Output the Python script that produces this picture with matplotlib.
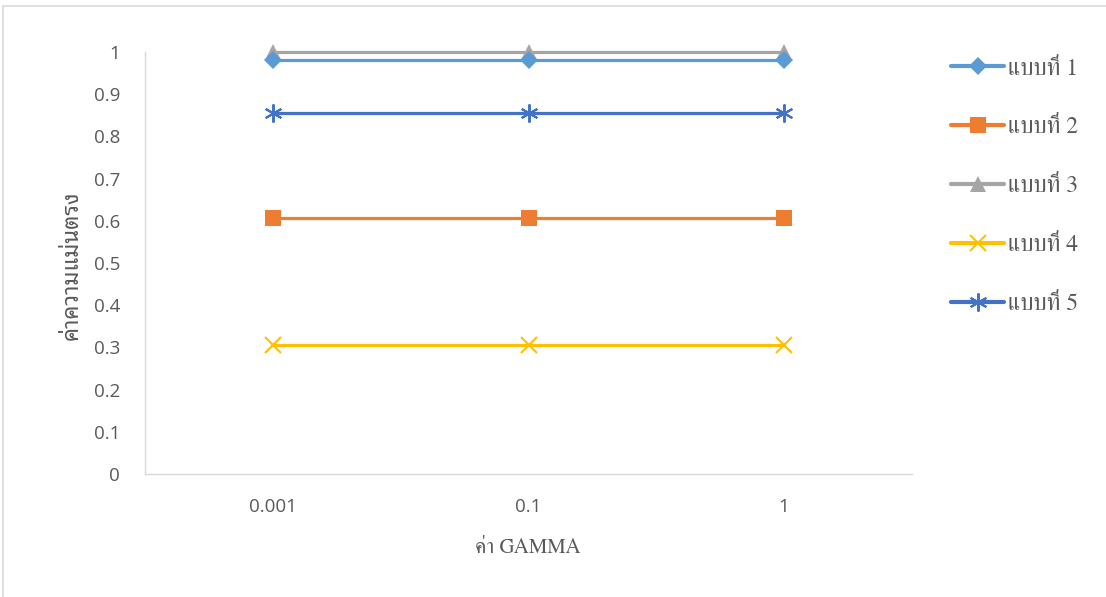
import matplotlib
matplotlib.use("Agg")
import matplotlib.pyplot as plt
from matplotlib.patches import Rectangle

categories = ["0.001", "0.1", "1"]
series_names = ["แบบที่ 1", "แบบที่ 2", "แบบที่ 3", "แบบที่ 4", "แบบที่ 5"]
s1 = [0.98, 0.98, 0.98]
s2 = [0.607, 0.607, 0.607]
s3 = [1.0, 1.0, 1.0]
s4 = [0.305, 0.305, 0.305]
s5 = [0.856, 0.856, 0.856]
yticks = [0, 0.1, 0.2, 0.3, 0.4, 0.5, 0.6, 0.7, 0.8, 0.9, 1]
ylabel = "ค่าความแม่นตรง"
xlabel = "ค่า GAMMA"

serif_thai = ["FreeSerif", "DejaVu Serif"]
sans_thai = ["Noto Sans Thai Looped", "Loma", "DejaVu Sans"]

fig = plt.figure(figsize=(11.06, 5.97), dpi=100)
W, H = 1106, 597
ax = fig.add_axes([145 / W, 1 - 474 / H, (912 - 145) / W, (474 - 52) / H])

x = list(range(len(categories)))
data = [s1, s2, s3, s4, s5]
colors = ["#5B9BD5", "#ED7D31", "#A5A5A5", "#FFC000", "#4472C4"]
markers = ["D", "s", "^", "x", (6, 2, 0)]
msizes = [8.8, 11.5, 12, 12, 13]
zorders = [4, 6, 3, 7, 5]
for i in range(5):
    kw = dict(color=colors[i], lw=2.3, marker=markers[i], markersize=msizes[i],
              label=series_names[i], solid_capstyle="round", clip_on=False)
    if i in (3, 4):
        kw.update(markeredgewidth=1.5)
    else:
        kw.update(markeredgewidth=0)
    ax.plot(x, data[i], zorder=zorders[i], **kw)

ax.set_xlim(-0.5, 2.5)
ax.set_ylim(0, 1)
ax.set_xticks(x)
ax.set_xticklabels(categories)
ax.set_yticks(yticks)
ax.set_yticklabels([f"{v:g}" for v in yticks])
for sp in ["top", "right"]:
    ax.spines[sp].set_visible(False)
for sp in ["left", "bottom"]:
    ax.spines[sp].set_color("#D9D9D9")
    ax.spines[sp].set_linewidth(1.0)
ax.tick_params(length=0, colors="#595959", labelsize=13.5)
ax.tick_params(axis="x", pad=17)
ax.tick_params(axis="y", pad=18)
for t in ax.get_xticklabels() + ax.get_yticklabels():
    t.set_fontfamily("Open Sans")

fig.text(528 / W, 1 - 548 / H, xlabel, ha="center", va="center", fontsize=15,
         color="#595959", family=serif_thai)
fig.text(72 / W, 1 - 265 / H, ylabel, ha="center", va="center", fontsize=16,
         color="#595959", rotation=90, family=sans_thai)

leg = ax.legend(loc="upper left", bbox_to_anchor=(951 / W, 1 - 58 / H),
                bbox_transform=fig.transFigure, frameon=False,
                prop=dict(family=serif_thai, size=17), labelcolor="#595959",
                handlelength=2.25, labelspacing=1.58, handletextpad=0.18,
                borderpad=0, borderaxespad=0)
for h in leg.get_lines():
    h.set_linewidth(3.0)

fig.patches.append(Rectangle((3 / W, -0.01), 1 - 3 / W + 0.01, 1 - 6 / H + 0.01,
                             transform=fig.transFigure, fill=False,
                             edgecolor="#D9D9D9", lw=1.2))
fig.savefig("out.png", dpi=100)
